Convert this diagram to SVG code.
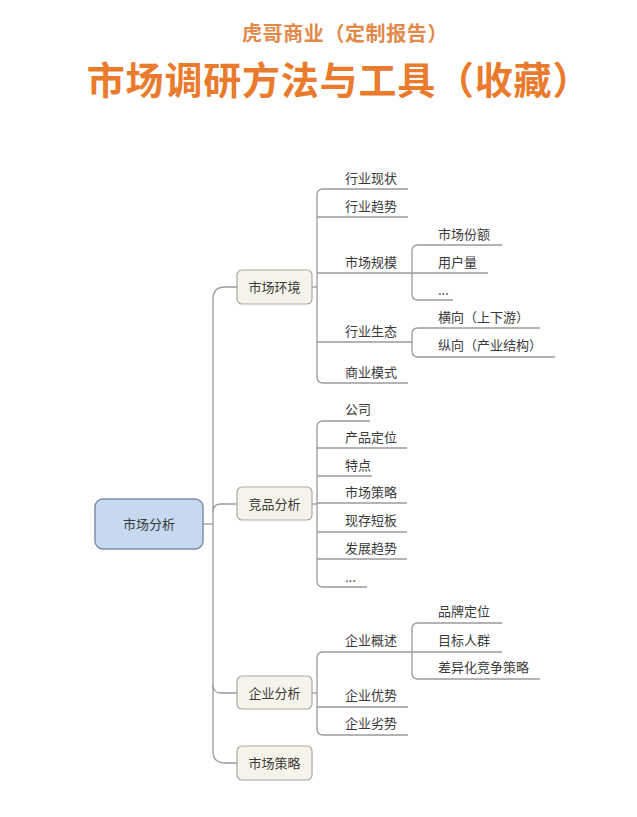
<svg xmlns="http://www.w3.org/2000/svg" width="637" height="817" viewBox="0 0 637 817">
<style>
text{font-family:"Noto Sans CJK SC","Noto Sans",sans-serif;}
.t{font-size:13px;fill:#3a3a3a;dominant-baseline:central;}
.c{text-anchor:middle;}
.ln{fill:none;stroke:#9a9a9a;stroke-width:1.3;}
.n1{fill:#F6F4EA;stroke:#AAA9A0;stroke-width:1.2;}
.root{fill:#C6D9F0;stroke:#7F8FA6;stroke-width:1.5;}
</style>
<rect width="637" height="817" fill="#ffffff"/>
<g id="title">
<text x="345" y="32" text-anchor="middle" dominant-baseline="central" font-size="20" font-weight="bold" letter-spacing="0.6" fill="#E2894A">虎哥商业（定制报告）</text>
<text x="339" y="77" text-anchor="middle" dominant-baseline="central" font-size="38" font-weight="bold" letter-spacing="0.8" fill="#EA7A2C">市场调研方法与工具（收藏）</text>
</g>
<g id="connectors">
<path class="ln" d="M203,524 H213"/>
<path class="ln" d="M237,287 H225 Q213,287 213,299 V751 Q213,763 225,763 H237"/>
<path class="ln" d="M213,512 Q213,504 221,504 H237"/>
<path class="ln" d="M213,685 Q213,693 221,693 H237"/>
<path class="ln" d="M312,287 H317"/>
<path class="ln" d="M408,189 H323 Q317,189 317,195 V377 Q317,383 323,383 H408"/>
<path class="ln" d="M317,217 H408 M317,273 H488 M317,342 H412"/>
<path class="ln" d="M502,245 H418 Q412,245 412,251 V294 Q412,300 418,300 H453"/>
<path class="ln" d="M540,328 H418 Q412,328 412,334 V351 Q412,357 418,357 H555"/>
<path class="ln" d="M312,504 H317"/>
<path class="ln" d="M370,421 H323 Q317,421 317,427 V581 Q317,587 323,587 H367"/>
<path class="ln" d="M317,448 H407 M317,476 H372 M317,503 H407 M317,532 H407 M317,559 H407"/>
<path class="ln" d="M312,693 H317"/>
<path class="ln" d="M412,652 H323 Q317,652 317,658 V729 Q317,735 323,735 H408"/>
<path class="ln" d="M317,707 H408"/>
<path class="ln" d="M502,623 H418 Q412,623 412,629 V673 Q412,679 418,679 H540"/>
<path class="ln" d="M412,652 H502"/>
</g>
<g id="root"><rect class="root" x="95" y="499" width="108" height="50" rx="8"/><text class="t c" x="149" y="523">市场分析</text></g>
<g id="n-env"><rect class="n1" x="237" y="270" width="75" height="34" rx="5"/><text class="t c" x="274.5" y="286">市场环境</text></g>
<g id="n-comp"><rect class="n1" x="237" y="487" width="75" height="33" rx="5"/><text class="t c" x="274.5" y="503">竞品分析</text></g>
<g id="n-ent"><rect class="n1" x="237" y="676" width="75" height="33" rx="5"/><text class="t c" x="274.5" y="692">企业分析</text></g>
<g id="n-strat"><rect class="n1" x="237" y="746" width="75" height="34" rx="5"/><text class="t c" x="274.5" y="762">市场策略</text></g>
<g id="env-children">
<text class="t" x="345" y="177">行业现状</text>
<text class="t" x="345" y="205">行业趋势</text>
<text class="t" x="345" y="261">市场规模</text>
<text class="t" x="345" y="330">行业生态</text>
<text class="t" x="345" y="371">商业模式</text>
<text class="t" x="438" y="233">市场份额</text>
<text class="t" x="438" y="261">用户量</text>
<text class="t" x="438" y="289">...</text>
<text class="t" x="438" y="316">横向（上下游）</text>
<text class="t" x="438" y="344">纵向（产业结构）</text>
</g>
<g id="comp-children">
<text class="t" x="345" y="408">公司</text>
<text class="t" x="345" y="436">产品定位</text>
<text class="t" x="345" y="464">特点</text>
<text class="t" x="345" y="491">市场策略</text>
<text class="t" x="345" y="519">现存短板</text>
<text class="t" x="345" y="547">发展趋势</text>
<text class="t" x="345" y="576">...</text>
</g>
<g id="ent-children">
<text class="t" x="345" y="639">企业概述</text>
<text class="t" x="345" y="694">企业优势</text>
<text class="t" x="345" y="722">企业劣势</text>
<text class="t" x="438" y="610">品牌定位</text>
<text class="t" x="438" y="639">目标人群</text>
<text class="t" x="438" y="666">差异化竞争策略</text>
</g>
</svg>
